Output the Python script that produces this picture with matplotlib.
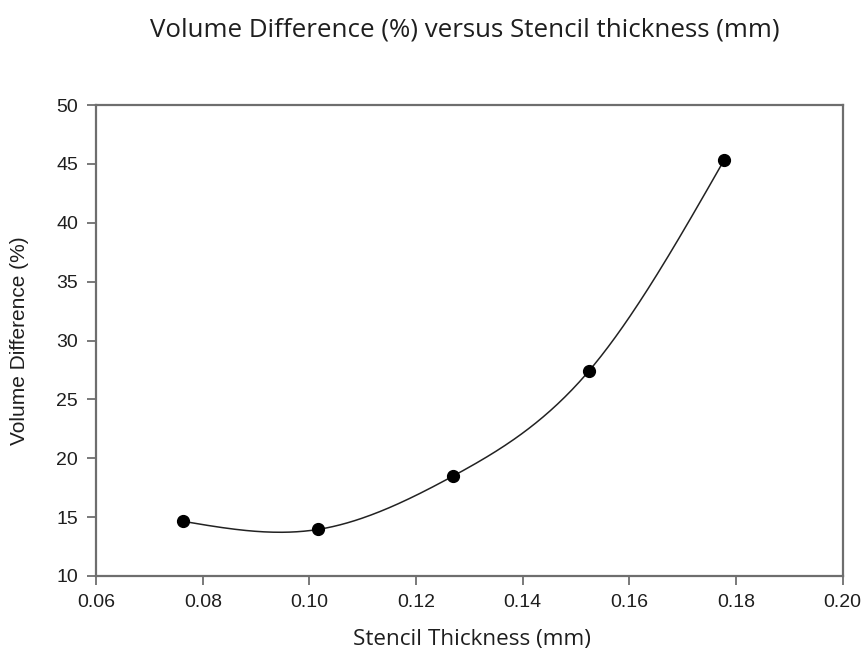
import numpy as np
import matplotlib
matplotlib.use("Agg")
import matplotlib.pyplot as plt

# data
stencil_thickness = [0.0762, 0.1016, 0.1270, 0.1524, 0.1778]
volume_difference = [14.65, 13.95, 18.5, 27.4, 45.35]
x_ticks = [0.06, 0.08, 0.10, 0.12, 0.14, 0.16, 0.18, 0.20]
y_ticks = [10, 15, 20, 25, 30, 35, 40, 45, 50]


def natural_spline(x, y, n=300):
    # natural cubic spline through the points (for the smooth curve)
    x = np.asarray(x, float)
    y = np.asarray(y, float)
    m = len(x)
    h = np.diff(x)
    A = np.zeros((m, m))
    b = np.zeros(m)
    A[0, 0] = A[-1, -1] = 1
    for i in range(1, m - 1):
        A[i, i - 1] = h[i - 1]
        A[i, i] = 2 * (h[i - 1] + h[i])
        A[i, i + 1] = h[i]
        b[i] = 6 * ((y[i + 1] - y[i]) / h[i] - (y[i] - y[i - 1]) / h[i - 1])
    M = np.linalg.solve(A, b)
    xs = np.linspace(x[0], x[-1], n)
    idx = np.clip(np.searchsorted(x, xs) - 1, 0, m - 2)
    x0, x1 = x[idx], x[idx + 1]
    hi = x1 - x0
    ys = (M[idx] * (x1 - xs) ** 3 / (6 * hi) + M[idx + 1] * (xs - x0) ** 3 / (6 * hi)
          + (y[idx] / hi - M[idx] * hi / 6) * (x1 - xs)
          + (y[idx + 1] / hi - M[idx + 1] * hi / 6) * (xs - x0))
    return xs, ys


fig = plt.figure(figsize=(8.66, 6.53), dpi=100)
ax = fig.add_axes([0.111, 0.118, 0.862, 0.721])

xs, ys = natural_spline(stencil_thickness, volume_difference)
ax.plot(xs, ys, color="#222222", linewidth=1.1)
ax.plot(stencil_thickness, volume_difference, "o", color="black", markersize=8.5)

ax.set_xlim(0.06, 0.20)
ax.set_ylim(10, 50)
ax.set_xticks(x_ticks)
ax.set_yticks(y_ticks)
ax.set_xticklabels([f"{v:.2f}" for v in x_ticks])

for s in ax.spines.values():
    s.set_color("#6e6e6e")
    s.set_linewidth(1.6)
ax.tick_params(direction="out", length=6.5, width=1.3, color="#6e6e6e",
               labelsize=14, labelcolor="#1e1e1e", pad=6.5)
for lbl in ax.get_xticklabels() + ax.get_yticklabels():
    lbl.set_family("Liberation Sans")

ax.set_ylabel("Volume Difference (%)", fontsize=15, family="Liberation Sans",
              color="#1e1e1e")
ax.yaxis.set_label_coords(-0.103, 0.5)
ax.yaxis.label.set_va("center")
ax.set_xlabel("Stencil Thickness (mm)", fontsize=16.2, family="Open Sans",
              color="#1e1e1e")
ax.xaxis.set_label_coords(0.503, -0.136)
ax.xaxis.label.set_va("center")
fig.text(0.537, 0.954, "Volume Difference (%) versus Stencil thickness (mm)",
         ha="center", va="center", fontsize=18.6, family="Open Sans", color="#1e1e1e")

fig.savefig("out.png", dpi=100)
